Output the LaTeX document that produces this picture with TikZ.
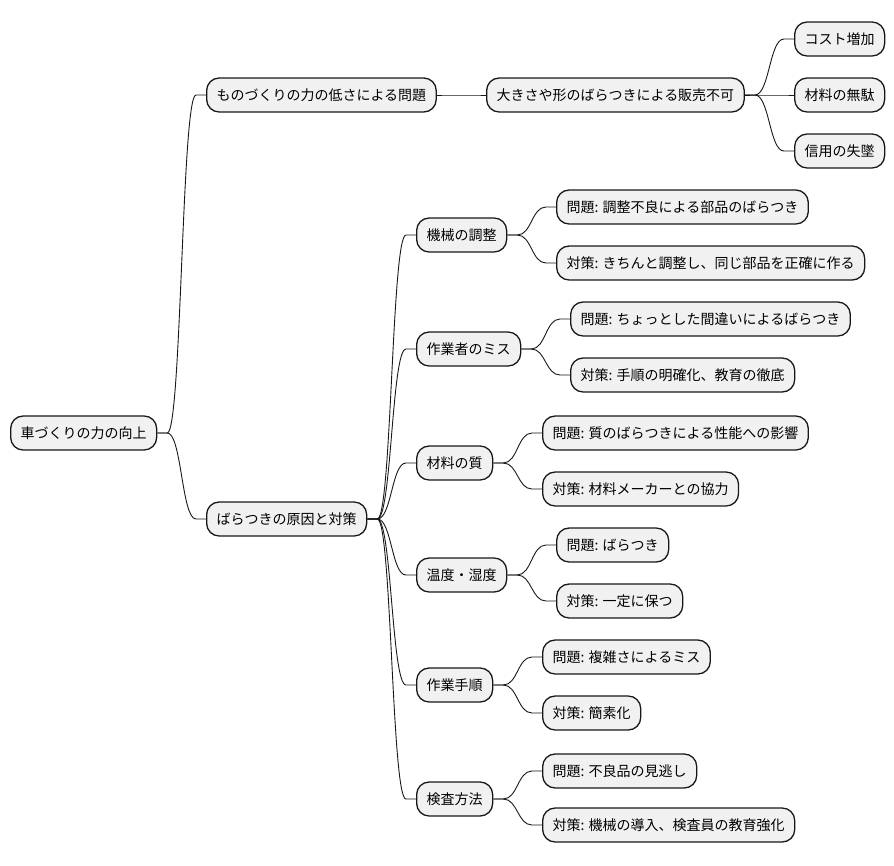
\documentclass[tikz,border=0pt]{standalone}
\usepackage{fontspec}
\newfontfamily\cjk{Noto Sans CJK JP}
\usetikzlibrary{calc}
\definecolor{nodefill}{HTML}{F1F1F1}
\definecolor{nodeline}{HTML}{181818}
\tikzset{
  mm/.style={draw=nodeline, fill=nodefill, line width=1.3pt, rounded corners=12.5pt,
    minimum height=34pt, inner xsep=10pt, inner ysep=0pt, anchor=west,
    font=\cjk\fontsize{14pt}{16pt}\selectfont, text=black},
  conn/.style={draw=nodeline, line width=0.9pt},
}
\newcommand{\mmlink}[2]{%
  \draw[conn] let \p1=(#1.east), \p2=(#2.west) in
    (\p1) -- ({\x1+10pt},\y1) .. controls ({(\x1+\x2)/2},\y1) and ({(\x1+\x2)/2},\y2) ..
    ({\x2-10pt},\y2) -- (\p2);}
\begin{document}
\begin{tikzpicture}[x=1pt,y=-1pt]
\useasboundingbox (0,0) rectangle (894,865);
\node[mm] (root) at (10,433) {車づくりの力の向上};
\node[mm] (a) at (206,95) {ものづくりの力の低さによる問題};
\node[mm] (a1) at (486,95) {大きさや形のばらつきによる販売不可};
\node[mm] (a11) at (794,39) {コスト増加};
\node[mm] (a12) at (794,95) {材料の無駄};
\node[mm] (a13) at (794,151) {信用の失墜};
\node[mm] (b) at (206,519) {ばらつきの原因と対策};
\node[mm] (b1) at (416,235) {機械の調整};
\node[mm] (b11) at (556,207) {問題: 調整不良による部品のばらつき};
\node[mm] (b12) at (556,263) {対策: きちんと調整し、同じ部品を正確に作る};
\node[mm] (b2) at (416,349) {作業者のミス};
\node[mm] (b21) at (570,319) {問題: ちょっとした間違いによるばらつき};
\node[mm] (b22) at (570,375) {対策: 手順の明確化、教育の徹底};
\node[mm] (b3) at (416,463) {材料の質};
\node[mm] (b31) at (542,433) {問題: 質のばらつきによる性能への影響};
\node[mm] (b32) at (542,489) {対策: 材料メーカーとの協力};
\node[mm] (b4) at (416,575) {温度・湿度};
\node[mm] (b41) at (556,545) {問題: ばらつき};
\node[mm] (b42) at (556,601) {対策: 一定に保つ};
\node[mm] (b5) at (416,685) {作業手順};
\node[mm] (b51) at (542,657) {問題: 複雑さによるミス};
\node[mm] (b52) at (542,713) {対策: 簡素化};
\node[mm] (b6) at (416,799) {検査方法};
\node[mm] (b61) at (542,771) {問題: 不良品の見逃し};
\node[mm] (b62) at (542,825) {対策: 機械の導入、検査員の教育強化};
\mmlink{root}{a}
\mmlink{root}{b}
\mmlink{a}{a1}
\mmlink{a1}{a11}
\mmlink{a1}{a12}
\mmlink{a1}{a13}
\mmlink{b}{b1}
\mmlink{b}{b2}
\mmlink{b}{b3}
\mmlink{b}{b4}
\mmlink{b}{b5}
\mmlink{b}{b6}
\mmlink{b1}{b11}
\mmlink{b1}{b12}
\mmlink{b2}{b21}
\mmlink{b2}{b22}
\mmlink{b3}{b31}
\mmlink{b3}{b32}
\mmlink{b4}{b41}
\mmlink{b4}{b42}
\mmlink{b5}{b51}
\mmlink{b5}{b52}
\mmlink{b6}{b61}
\mmlink{b6}{b62}
\end{tikzpicture}
\end{document}
